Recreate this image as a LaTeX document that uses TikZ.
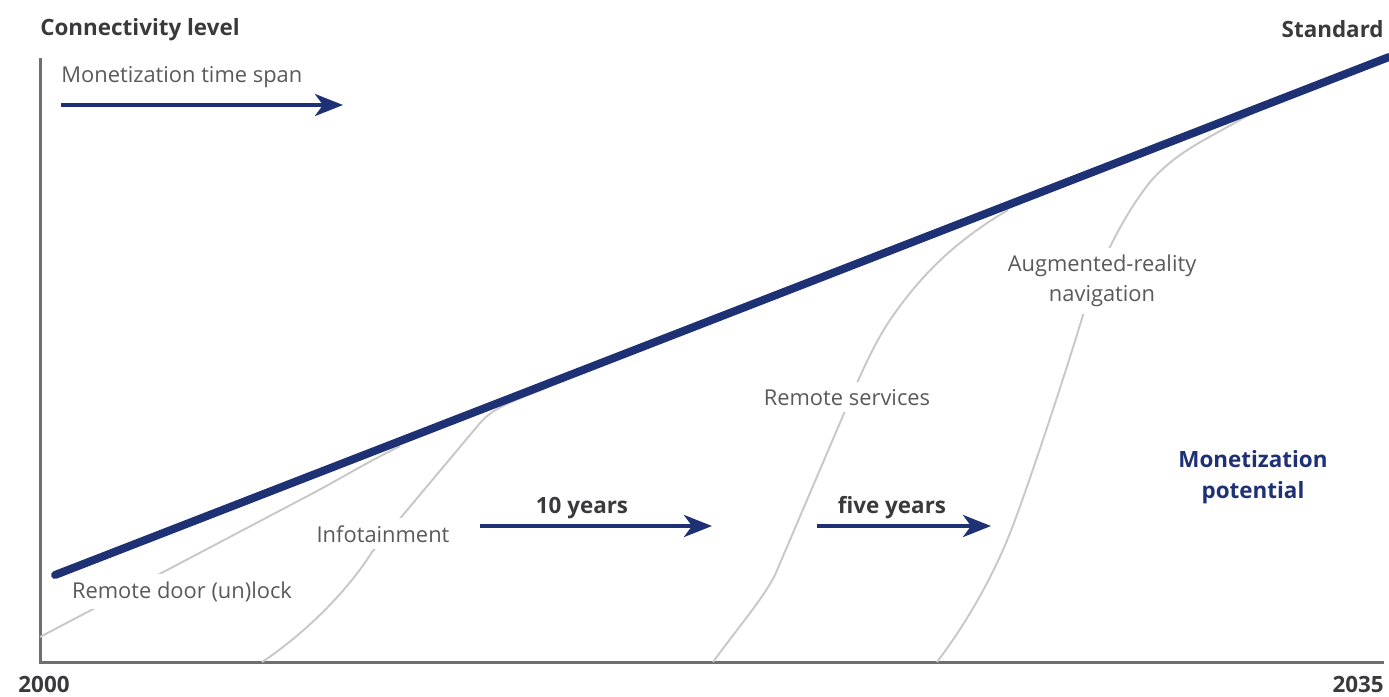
\documentclass[tikz,border=0pt]{standalone}
\usepackage{fontspec}
\setmainfont{Open Sans}
\usetikzlibrary{arrows.meta}
\definecolor{navy}{RGB}{31,49,117}
\definecolor{axisgray}{RGB}{110,111,113}
\definecolor{curvegray}{RGB}{200,200,200}
\definecolor{labelgray}{RGB}{90,90,92}
\definecolor{titlegray}{RGB}{58,58,60}

\begin{document}
\begin{tikzpicture}[
  x=0.2mm, y=-0.2mm,
  every node/.style={font=\fontsize{12.45}{17}\selectfont, inner sep=0pt},
  title/.style={font=\fontsize{12.75}{17.5}\selectfont\bfseries, text=titlegray},
  curvelabel/.style={text=labelgray, fill=white, inner sep=4pt, align=center},
  adoption/.style={draw=curvegray, line width=1.1pt},
  axis/.style={draw=axisgray, line width=0.6mm},
  trend/.style={draw=navy, line width=1.6mm, line cap=round},
  arrow/.style={draw=navy, line width=0.8mm, -{Stealth[length=5.6mm, width=4.4mm, inset=1.6mm]}}
]
\useasboundingbox (0,0) rectangle (1389,696);

\coordinate (origin) at (40,662);
\coordinate (ytop)   at (40,58);
\coordinate (xend)   at (1384,662);
\draw[axis] (ytop) -- (origin) -- (xend);

\draw[adoption] (40,637) -- (300,500) .. controls (335,482) and (360,466) .. (400,446);
\draw[adoption] (262,662) .. controls (300,637) and (345,595) .. (372,552) -- (480,423)
  .. controls (495,406) and (515,401) .. (548,387);
\draw[adoption] (713,662) .. controls (740,625) and (762,600) .. (775,575) -- (842,418)
  .. controls (855,388) and (870,350) .. (890,320) .. controls (920,276) and (955,241) .. (1008,210);
\draw[adoption] (937,662) .. controls (965,625) and (995,575) .. (1015,520)
  .. controls (1030,480) and (1065,375) .. (1083,315) .. controls (1097,270) and (1120,220) .. (1150,182)
  .. controls (1178,150) and (1208,139) .. (1252,113);

\node[curvelabel, anchor=base] (door) at (182,598)  {Remote door (un)lock};
\node[curvelabel, anchor=base] (info) at (383,542)  {Infotainment};
\node[curvelabel, anchor=base] (serv) at (847,405)  {Remote services};
\node[curvelabel]              (ar)   at (1102,281) {Augmented-reality\\navigation};

\coordinate (lo) at (55,575);
\coordinate (hi) at (1389,57);
\draw[trend] (lo) -- (hi);

\node[title, anchor=base west] (conn) at (40,35)   {Connectivity level};
\node[title, anchor=base east] (std)  at (1384,37) {Standard};
\node[title, anchor=base]      (y0)   at (44,692)  {2000};
\node[title, anchor=base east] (y1)   at (1384,692) {2035};

\node[text=labelgray, anchor=base west] (span) at (61,82) {Monetization time span};
\coordinate (span0) at (61,105);
\coordinate (span1) at (343,105);
\draw[arrow] (span0) -- (span1);

\node[title, anchor=base] (ten) at (582,513) {10 years};
\coordinate (ten0) at (480,526);
\coordinate (ten1) at (712,526);
\draw[arrow] (ten0) -- (ten1);

\node[title, anchor=base] (five) at (892,513) {five years};
\coordinate (five0) at (817,526);
\coordinate (five1) at (991,526);
\draw[arrow] (five0) -- (five1);

\node[title, text=navy, align=center] (pot) at (1253,477) {Monetization\\potential};
\end{tikzpicture}
\end{document}
